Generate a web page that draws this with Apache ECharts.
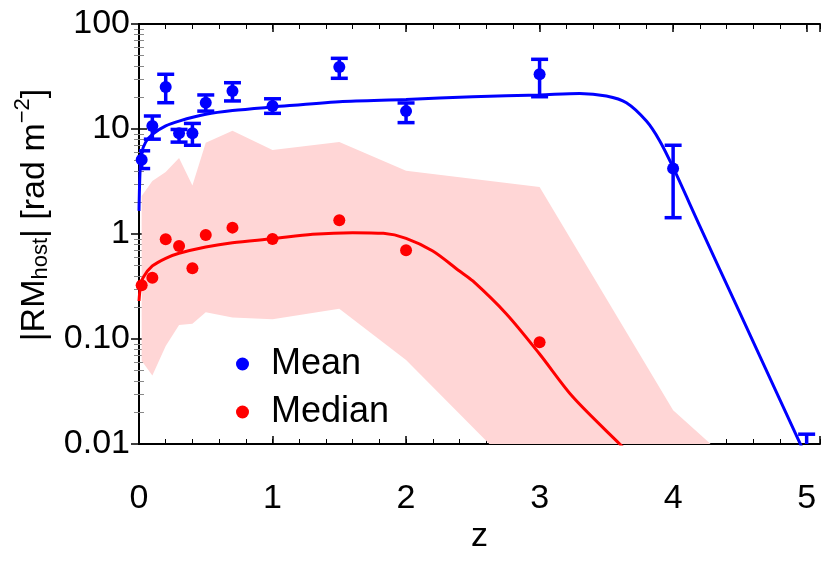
<!DOCTYPE html>
<html>
<head>
<meta charset="utf-8">
<script src="https://cdn.jsdelivr.net/npm/echarts@6/dist/echarts.min.js"></script>
<style>
html,body{margin:0;padding:0;background:#fff;}
#chart{width:830px;height:561px;}
</style>
</head>
<body>
<div id="chart"></div>
<script>
// ---- data ----
const xTickLabels = ['0', '1', '2', '3', '4', '5'];
const yTickLabels = ['0.01', '0.10', '1', '10', '100'];

const meanZ   = [0.02, 0.1, 0.2, 0.3, 0.4, 0.5, 0.7, 1.0, 1.5, 2.0, 3.0, 4.0, 5.0];
const meanVal = [5.1, 10.7, 25.1, 9.1, 9.1, 17.8, 23.0, 16.6, 38.9, 14.8, 33.2, 4.2, 0.006];
const meanLo  = [4.2, 8.0, 17.8, 7.5, 7.0, 14.8, 18.5, 14.1, 30.4, 11.5, 20.3, 1.43, 0.003];
const meanHi  = [6.2, 13.3, 33.2, 9.9, 11.3, 21.1, 27.6, 19.4, 47.1, 17.7, 46.1, 7.0, 0.0124];

const medianZ   = [0.02, 0.1, 0.2, 0.3, 0.4, 0.5, 0.7, 1.0, 1.5, 2.0, 3.0];
const medianVal = [0.325, 0.384, 0.89, 0.77, 0.471, 0.98, 1.15, 0.896, 1.35, 0.70, 0.093];

const bandZ     = [0.02, 0.1, 0.2, 0.3, 0.4, 0.5, 0.7, 1.0, 1.5, 2.0, 3.0, 4.0, 5.0];
const bandUpper = [2.3, 3.2, 3.9, 5.3, 2.9, 7.4, 9.6, 6.3, 7.5, 4.0, 2.8, 0.021, 0.0015];
const bandLower = [0.062, 0.045, 0.086, 0.136, 0.14, 0.18, 0.16, 0.154, 0.194, 0.063, 0.0033, 0.0001, 0.0001];

const meanFitZ   = [0, 0.008, 0.02, 0.05, 0.1, 0.2, 0.3, 0.5, 0.7, 1.0, 1.5, 2.0, 2.5, 3.0, 3.3, 3.5, 3.65, 3.8, 3.9, 4.0, 4.2, 4.5, 5.0, 5.1];
const meanFitVal = [1.66, 4.0, 5.9, 7.5, 8.9, 10.7, 11.9, 13.8, 15.0, 16.2, 18.2, 19.1, 20.3, 21.1, 21.8, 20.6, 17.8, 11.9, 7.7, 4.3, 1.19, 0.177, 0.0074, 0.0039];

const medianFitZ   = [0, 0.01, 0.03, 0.1, 0.2, 0.3, 0.5, 0.7, 1.0, 1.3, 1.6, 1.83, 2.0, 2.2, 2.4, 2.5, 2.75, 3.0, 3.25, 3.6, 3.8];
const medianFitVal = [0.23, 0.31, 0.384, 0.496, 0.587, 0.655, 0.752, 0.826, 0.902, 0.993, 1.03, 1.015, 0.91, 0.689, 0.444, 0.357, 0.174, 0.072, 0.028, 0.01, 0.0056];

// ---- chart ----
const FONT = "'Liberation Sans', Arial, Helvetica, sans-serif";
const BLUE = '#0000ff', RED = '#ff0000', BAND = '#ffd6d6';
const X_MIN = 0, X_MAX = 5.1;

const chart = echarts.init(document.getElementById('chart'), null, {renderer: 'canvas'});

function xAxisDef(pos, major, withLabels) {
  return {
    type: 'value', position: pos, min: X_MIN, max: X_MAX,
    interval: major ? 1 : 0.2,
    axisLine: {show: major, lineStyle: {color: '#000', width: 2}},
    axisTick: {show: true, inside: true, length: major ? 8 : 5,
               lineStyle: {color: '#000', width: major ? 1.5 : 1}},
    axisLabel: {show: withLabels, margin: 38, fontSize: 34, color: '#000', fontFamily: FONT,
                formatter: (v) => Number.isInteger(v) ? xTickLabels[v] : ''},
    splitLine: {show: false},
    name: withLabels ? 'z' : '', nameLocation: 'middle', nameGap: 76, nameMoveOverlap: false,
    nameTextStyle: {fontSize: 34, color: '#000', fontFamily: FONT}
  };
}

function yAxisDef(pos, withLabels) {
  return {
    type: 'log', logBase: 10, position: pos, min: 0.01, max: 100,
    axisLine: {show: true, lineStyle: {color: '#000', width: 2}},
    axisTick: {show: true, inside: true, length: 8, lineStyle: {color: '#000', width: 1.5}},
    minorTick: {show: true, splitNumber: 9, length: 5, lineStyle: {color: '#888', width: 1}},
    axisLabel: {show: withLabels, margin: 9, fontSize: 34, color: '#000', fontFamily: FONT,
                formatter: (v, i) => yTickLabels[i]},
    splitLine: {show: false},
    minorSplitLine: {show: false},
    name: withLabels ? '{m||RM}{sub|host}{m|| [rad m}{sup|\u22122}{m|]}' : '',
    nameLocation: 'middle', nameRotate: 90, nameGap: 87, nameMoveOverlap: false,
    nameTextStyle: {
      fontSize: 34, color: '#000', fontFamily: FONT, padding: [0, 0, 0, 38],
      rich: {
        m:   {fontSize: 34, lineHeight: 40, fontFamily: FONT, color: '#000', verticalAlign: 'bottom'},
        sub: {fontSize: 22, lineHeight: 22, fontFamily: FONT, color: '#000', verticalAlign: 'bottom'},
        sup: {fontSize: 22, lineHeight: 22, fontFamily: FONT, color: '#000', verticalAlign: 'top', padding: [0, 0, 35, 0]}
      }
    }
  };
}

const errData = meanZ.map((z, i) => [z, meanLo[i], meanHi[i]]);

const option = {
  backgroundColor: '#fff',
  animation: false,
  textStyle: {fontFamily: FONT},
  grid: {left: 139, right: 10, top: 24, bottom: 117, containLabel: false, outerBoundsMode: 'none'},
  legend: {
    data: ['Mean', 'Median'], orient: 'vertical', left: 231, top: 341,
    itemWidth: 47, itemHeight: 13, itemGap: 12, icon: 'circle',
    textStyle: {fontSize: 36, color: '#000', fontFamily: FONT}
  },
  xAxis: [
    xAxisDef('bottom', true, true),
    xAxisDef('bottom', false, false),
    xAxisDef('top', true, false),
    xAxisDef('top', false, false)
  ],
  yAxis: [yAxisDef('left', true), yAxisDef('right', false)],
  series: [
    {
      type: 'custom', name: 'band', clip: true, z: 1,
      xAxisIndex: 0, yAxisIndex: 0,
      data: [[bandZ[0], bandUpper[0]]],
      encode: {x: 0, y: 1},
      silent: true,
      renderItem: function (params, api) {
        const pts = [];
        for (let i = 0; i < bandZ.length; i++) pts.push(api.coord([bandZ[i], bandUpper[i]]));
        for (let i = bandZ.length - 1; i >= 0; i--) pts.push(api.coord([bandZ[i], bandLower[i]]));
        return {type: 'polygon', shape: {points: pts}, style: {fill: BAND}};
      }
    },
    {
      type: 'line', name: 'meanFit', xAxisIndex: 0, yAxisIndex: 0, z: 3,
      data: meanFitZ.map((z, i) => [z, meanFitVal[i]]),
      showSymbol: false, smooth: 0.3,
      lineStyle: {color: BLUE, width: 3}, clip: true, silent: true
    },
    {
      type: 'line', name: 'medianFit', xAxisIndex: 0, yAxisIndex: 0, z: 3,
      data: medianFitZ.map((z, i) => [z, medianFitVal[i]]),
      showSymbol: false, smooth: 0.3,
      lineStyle: {color: RED, width: 3}, clip: true, silent: true
    },
    {
      type: 'custom', name: 'meanErr', clip: true, z: 4,
      xAxisIndex: 0, yAxisIndex: 0,
      data: errData, encode: {x: 0, y: [1, 2]}, silent: true,
      renderItem: function (params, api) {
        const x = api.value(0);
        const pLo = api.coord([x, api.value(1)]);
        const pHi = api.coord([x, api.value(2)]);
        const hw = 8.5;
        const st = {stroke: BLUE, lineWidth: 3.5};
        return {type: 'group', children: [
          {type: 'line', shape: {x1: pLo[0], y1: pLo[1], x2: pHi[0], y2: pHi[1]}, style: st},
          {type: 'line', shape: {x1: pLo[0] - hw, y1: pLo[1], x2: pLo[0] + hw, y2: pLo[1]}, style: st},
          {type: 'line', shape: {x1: pHi[0] - hw, y1: pHi[1], x2: pHi[0] + hw, y2: pHi[1]}, style: st}
        ]};
      }
    },
    {
      type: 'scatter', name: 'Mean', xAxisIndex: 0, yAxisIndex: 0, z: 5,
      data: meanZ.map((z, i) => [z, meanVal[i]]),
      symbol: 'circle', symbolSize: 12, itemStyle: {color: BLUE, opacity: 1}, clip: true
    },
    {
      type: 'scatter', name: 'Median', xAxisIndex: 0, yAxisIndex: 0, z: 5,
      data: medianZ.map((z, i) => [z, medianVal[i]]),
      symbol: 'circle', symbolSize: 12, itemStyle: {color: RED, opacity: 1}, clip: true
    }
  ]
};
chart.setOption(option);
</script>
</body>
</html>
